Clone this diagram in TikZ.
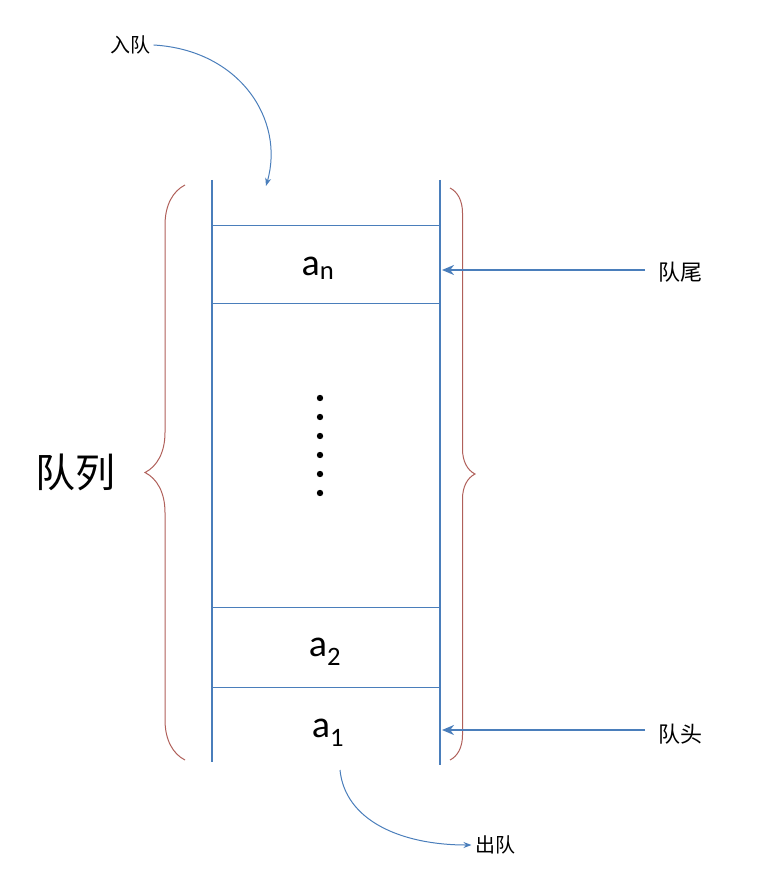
\documentclass[tikz,border=0pt]{standalone}
\usepackage{fontspec}
\setmainfont{Carlito}
\newfontfamily\cjk{Noto Sans CJK SC}
\usetikzlibrary{decorations.pathreplacing,arrows.meta}
\definecolor{qblue}{HTML}{4A7EBB}
\definecolor{qred}{HTML}{B0605A}
\begin{document}
\begin{tikzpicture}[x=1pt,y=-1pt,
  wall/.style={qblue,line width=2pt},
  slot/.style={qblue,line width=0.8pt},
  elem/.style={font=\fontsize{38}{40}\selectfont},
  lbl/.style={font=\cjk\fontsize{22}{24}\selectfont},
  ptr/.style={qblue,line width=2.5pt,-{Stealth[length=12pt,width=10pt]}},
  flow/.style={qblue,line width=1pt,-{Stealth[length=8pt,width=6pt]}},
  br/.style={qred,line width=1pt,decorate}]
\useasboundingbox (0,0) rectangle (774,882);
\coordinate (LT) at (212,180); \coordinate (LB) at (212,762);
\coordinate (RT) at (440,180); \coordinate (RB) at (440,765);
\draw[wall] (LT) -- (LB);
\draw[wall] (RT) -- (RB);
\foreach \y in {225,303,607,687} \draw[slot] (212,\y) -- (440,\y);
\node[elem] (an) at (318,268) {a\textsubscript{n}};
\node[elem] (a2) at (325,652) {a\textsubscript{2}};
\node[elem] (a1) at (328,733) {a\textsubscript{1}};
\foreach \y in {398,417,436,455,474,493} \fill (320,\y) circle (3.2pt);
\draw[br,decoration={brace,amplitude=40pt}] (185,760) -- (185,185);
\draw[br,decoration={brace,amplitude=25pt}] (450,188) -- (450,760);
\node[font=\cjk\fontsize{40}{44}\selectfont] (ql) at (75,472) {队列};
\node[lbl] (tail) at (680,272) {队尾};
\node[lbl] (head) at (680,734) {队头};
\coordinate (t0) at (645,270); \coordinate (t1) at (442,270);
\coordinate (h0) at (645,730); \coordinate (h1) at (442,730);
\draw[ptr] (t0) -- (t1);
\draw[ptr] (h0) -- (h1);
\node[lbl,font=\cjk\fontsize{20}{22}\selectfont] (in) at (130,45) {入队};
\draw[flow] (in.east) .. controls (240,50) and (285,120) .. (266,186);
\node[lbl,font=\cjk\fontsize{20}{22}\selectfont] (out) at (495,845) {出队};
\draw[flow] (340,770) .. controls (345,820) and (400,845) .. (out.west);
\end{tikzpicture}
\end{document}
